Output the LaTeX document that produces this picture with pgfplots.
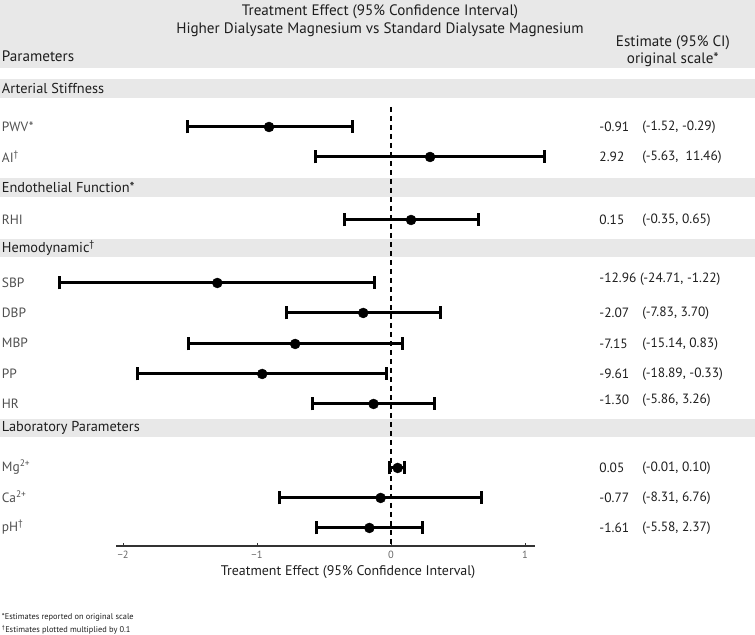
\documentclass[border=0pt]{standalone}
\usepackage{fontspec}
\setmainfont{PT Sans}
\usepackage{pgfplots}
\pgfplotsset{compat=1.18}
\usepackage{pgfplotstable}

\definecolor{band}{RGB}{232,232,232}
\definecolor{rowtxt}{RGB}{80,80,80}
\definecolor{hdtxt}{RGB}{30,30,30}

% plotted values (AI, haemodynamic, Ca and pH scaled by 0.1); y = row position
\pgfplotstableread{
est    lo     hi     y
-0.91  -1.52  -0.29  -127
0.292  -0.563 1.146  -157
0.15   -0.35  0.65   -220
-1.296 -2.471 -0.122 -283
-0.207 -0.783 0.370  -313
-0.715 -1.514 0.083  -344
-0.961 -1.889 -0.033 -374
-0.130 -0.586 0.326  -404
0.05   -0.01  0.10   -468
-0.077 -0.831 0.676  -498
-0.161 -0.558 0.237  -528
}\effects

\newcommand{\hdf}{\fontsize{15.2}{17}\selectfont}
\newcommand{\secf}{\fontsize{14.4}{16}\selectfont}
\newcommand{\rowf}{\fontsize{13.5}{15}\selectfont}

\begin{document}
\begin{tikzpicture}
\begin{axis}[
  scale only axis,
  width=419bp, height=446bp,
  xmin=-2.052, xmax=1.075,
  ymin=-546, ymax=-100,
  axis x line=bottom, axis y line=none,
  x axis line style={-, line width=1.2bp, color=black!80},
  xtick={-2,-1,0,1},
  xticklabels={−2,−1,0,1},
  tick align=inside, major tick length=3bp,
  tick style={black!80, line width=0.8bp},
  ticklabel style={font=\fontsize{10.5}{12}\selectfont, text=black!60, yshift=-2bp},
  clip=false,
]
% header and section bands
\fill[band] (axis cs:-2.918,0) rectangle (axis cs:2.717,-68);
\fill[band] (axis cs:-2.918,-79) rectangle (axis cs:2.717,-98);
\fill[band] (axis cs:-2.918,-178) rectangle (axis cs:2.717,-197);
\fill[band] (axis cs:-2.918,-239) rectangle (axis cs:2.717,-257);
\fill[band] (axis cs:-2.918,-419) rectangle (axis cs:2.717,-437);

\addplot[black, line width=1.2bp, dash pattern=on 5bp off 4bp]
  coordinates {(0,-107) (0,-546)};

\addplot[only marks, mark=*, mark size=5bp, black,
  error bars/.cd, x dir=both, x explicit,
  error bar style={line width=3bp, black},
  error mark=|,
  error mark options={line width=3bp, mark size=6.5bp, black}]
  table[x=est, y=y,
    x error plus expr=\thisrow{hi}-\thisrow{est},
    x error minus expr=\thisrow{est}-\thisrow{lo}] {\effects};

% header
\node[font=\hdf, text=hdtxt] at (axis cs:-0.082,-12) {Treatment Effect (95\% Confidence Interval)};
\node[font=\hdf, text=hdtxt] at (axis cs:-0.082,-30) {Higher Dialysate Magnesium vs Standard Dialysate Magnesium};
\node[font=\hdf, text=hdtxt] at (axis cs:2.104,-43) {Estimate (95\% CI)};
\node[font=\hdf, text=hdtxt] at (axis cs:2.104,-60) {original scale*};
\node[font=\hdf, text=hdtxt, anchor=west] at (axis cs:-2.93,-56) {Parameters};

% axis title
\node[font=\fontsize{14}{16}\selectfont, text=hdtxt] at (axis cs:-0.32,-572) {Treatment Effect (95\% Confidence Interval)};

% section labels
\begin{scope}[every node/.style={font=\secf, text=hdtxt, anchor=west}]
\node at (axis cs:-2.93,-88) {Arterial Stiffness};
\node at (axis cs:-2.93,-187) {Endothelial Function*};
\node at (axis cs:-2.93,-248) {Hemodynamic\textsuperscript{†}};
\node at (axis cs:-2.93,-428) {Laboratory Parameters};
\end{scope}

% row labels
\begin{scope}[every node/.style={font=\rowf, text=rowtxt, anchor=west}]
\node at (axis cs:-2.93,-127) {PWV*};
\node at (axis cs:-2.93,-157) {AI\textsuperscript{†}};
\node at (axis cs:-2.93,-220) {RHI};
\node at (axis cs:-2.93,-283) {SBP};
\node at (axis cs:-2.93,-313) {DBP};
\node at (axis cs:-2.93,-343) {MBP};
\node at (axis cs:-2.93,-374) {PP};
\node at (axis cs:-2.93,-404) {HR};
\node at (axis cs:-2.93,-467) {Mg\textsuperscript{2+}};
\node at (axis cs:-2.93,-497) {Ca\textsuperscript{2+}};
\node at (axis cs:-2.93,-527) {pH\textsuperscript{†}};
\end{scope}

% estimates on original scale
\begin{scope}[every node/.style={font=\rowf, text=hdtxt, anchor=west}]
\node at (axis cs:1.53,-127) {-0.91};  \node at (axis cs:1.851,-127) {(-1.52, -0.29)};
\node at (axis cs:1.53,-157) {2.92};   \node at (axis cs:1.851,-157) {(-5.63,\ \ 11.46)};
\node at (axis cs:1.53,-220) {0.15};   \node at (axis cs:1.851,-220) {(-0.35, 0.65)};
\node at (axis cs:1.53,-279) {-12.96 (-24.71, -1.22)};
\node at (axis cs:1.53,-313) {-2.07};  \node at (axis cs:1.851,-313) {(-7.83, 3.70)};
\node at (axis cs:1.53,-344) {-7.15};  \node at (axis cs:1.851,-344) {(-15.14, 0.83)};
\node at (axis cs:1.53,-374) {-9.61};  \node at (axis cs:1.851,-374) {(-18.89, -0.33)};
\node at (axis cs:1.53,-400) {-1.30};  \node at (axis cs:1.851,-400) {(-5.86, 3.26)};
\node at (axis cs:1.53,-468) {0.05};   \node at (axis cs:1.851,-468) {(-0.01, 0.10)};
\node at (axis cs:1.53,-498) {-0.77};  \node at (axis cs:1.851,-498) {(-8.31, 6.76)};
\node at (axis cs:1.53,-528) {-1.61};  \node at (axis cs:1.851,-528) {(-5.58, 2.37)};
\end{scope}

% footnotes
\begin{scope}[every node/.style={font=\fontsize{8.4}{10}\selectfont, text=hdtxt, anchor=west}]
\node at (axis cs:-2.93,-617) {*Estimates reported on original scale};
\node at (axis cs:-2.93,-630) {\textsuperscript{†}Estimates plotted multiplied by 0.1};
\end{scope}

\coordinate (tl) at (axis cs:-2.918,0);
\coordinate (br) at (axis cs:2.717,-635);
\end{axis}
\pgfresetboundingbox
\path[use as bounding box] (tl) rectangle (br);
\end{tikzpicture}
\end{document}
